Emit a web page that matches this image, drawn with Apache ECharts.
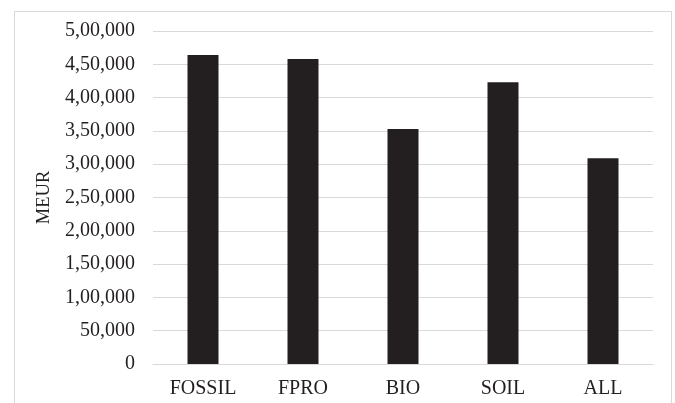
<!DOCTYPE html>
<html>
<head>
<meta charset="utf-8">
<script src="https://cdn.jsdelivr.net/npm/echarts@6/dist/echarts.min.js"></script>
<style>
  html, body { margin: 0; padding: 0; background: #ffffff; }
  #chart { width: 675px; height: 403px; }
</style>
</head>
<body>
<div id="chart"></div>
<script>
// Scenario categories and their totals in MEUR
const categories = ['FOSSIL', 'FPRO', 'BIO', 'SOIL', 'ALL'];
const meurValues = [464000, 458000, 353000, 423000, 309000];
const yAxisName = 'MEUR';

// Indian digit grouping: 5,00,000
function groupIndian(n) {
  const s = String(Math.round(n));
  if (s.length <= 3) return s;
  const last3 = s.slice(-3);
  let rest = s.slice(0, -3);
  const parts = [];
  while (rest.length > 2) {
    parts.unshift(rest.slice(-2));
    rest = rest.slice(0, -2);
  }
  if (rest.length) parts.unshift(rest);
  return parts.join(',') + ',' + last3;
}

const textColor = '#231f20';
const fontFamily = '"Liberation Serif", "Times New Roman", serif';

const chart = echarts.init(document.getElementById('chart'), null, { renderer: 'canvas' });
chart.setOption({
  animation: false,
  backgroundColor: '#ffffff',
  graphic: [{
    type: 'rect',
    shape: { x: 14.5, y: 11.5, width: 657, height: 400 },
    style: { fill: 'none', stroke: '#d9d9d9', lineWidth: 1 },
    silent: true
  }],
  grid: { left: 153, right: 22, top: 31, bottom: 39 },
  xAxis: {
    type: 'category',
    data: categories,
    axisLine: { show: true, lineStyle: { color: '#d9d9d9', width: 1 } },
    axisTick: { show: false },
    axisLabel: { color: textColor, fontFamily: fontFamily, fontSize: 20, margin: 15 }
  },
  yAxis: {
    type: 'value',
    min: 0,
    max: 500000,
    interval: 50000,
    name: yAxisName,
    nameLocation: 'middle',
    nameGap: 92,
    nameRotate: 90,
    nameTextStyle: { color: textColor, fontFamily: fontFamily, fontSize: 18.5 },
    axisLine: { show: false },
    axisTick: { show: false },
    splitLine: { lineStyle: { color: '#d9d9d9', width: 1 } },
    axisLabel: {
      color: textColor,
      fontFamily: fontFamily,
      fontSize: 20,
      margin: 18,
      formatter: v => groupIndian(v)
    }
  },
  series: [{
    type: 'bar',
    data: meurValues,
    barWidth: 31,
    itemStyle: { color: '#231f20' }
  }]
});
</script>
</body>
</html>
